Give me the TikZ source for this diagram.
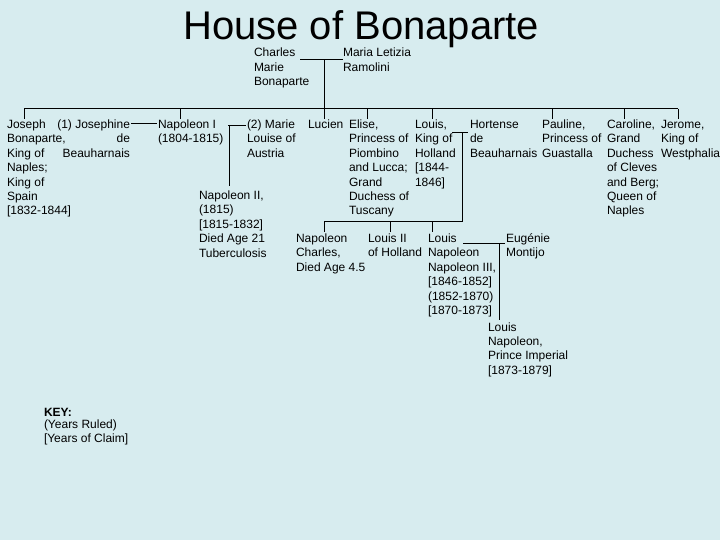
\documentclass[tikz,border=0pt]{standalone}
\usepackage{fontspec}
\setmainfont{Liberation Sans}
\definecolor{bg}{RGB}{215,236,239}
\newcommand\stkl[1]{\begin{tabular}[t]{@{}l@{}}#1\end{tabular}}
\newcommand\stkr[1]{\begin{tabular}[t]{@{}r@{}}#1\end{tabular}}
\begin{document}
\begin{tikzpicture}[x=1pt,y=-1pt,
  person/.style={inner sep=0pt, outer sep=0pt, anchor=base west,
    font=\fontsize{12}{14.4}\selectfont},
  link/.style={line width=1pt, black}]
\path[use as bounding box, fill=bg] (0,0) rectangle (720,540);
% title
\node[inner sep=0pt, anchor=base west, font=\fontsize{40}{48}\selectfont] (title) at (183,40) {House of Bonaparte};
% parents
\node[person] (charles) at (254,57) {\stkl{Charles\\Marie\\Bonaparte}};
\node[person] (letizia) at (343,57) {\stkl{Maria Letizia\\Ramolini}};
% children row
\node[person] (joseph) at (7,128.5) {\stkl{Joseph\\Bonaparte,\\King of\\Naples;\\King of\\Spain\\{[1832-1844]}}};
\node[person, anchor=base east] (josephine) at (130,128.5) {\stkr{(1) Josephine\\de\\Beauharnais}};
\node[person] (nap1) at (158,128.5) {\stkl{Napoleon I\\(1804-1815)}};
\node[person] (marielouise) at (247,128.5) {\stkl{(2) Marie\\Louise of\\Austria}};
\node[person] (nap2) at (199,199.5) {\stkl{Napoleon II,\\(1815)\\{[1815-1832]}\\Died Age 21\\Tuberculosis}};
\node[person] (lucien) at (308,128.5) {\stkl{Lucien}};
\node[person] (elise) at (349,128.5) {\stkl{Elise,\\Princess of\\Piombino\\and Lucca;\\Grand\\Duchess of\\Tuscany}};
\node[person] (louis) at (415,128.5) {\stkl{Louis,\\King of\\Holland\\{[1844-}\\1846]}};
\node[person] (hortense) at (470,128.5) {\stkl{Hortense\\de\\Beauharnais}};
\node[person] (pauline) at (542,128.5) {\stkl{Pauline,\\Princess of\\Guastalla}};
\node[person] (caroline) at (607,128.5) {\stkl{Caroline,\\Grand\\Duchess\\of Cleves\\and Berg;\\Queen of\\Naples}};
\node[person] (jerome) at (661,128.5) {\stkl{Jerome,\\King of\\Westphalia}};
% grandchildren
\node[person] (napcharles) at (296,242.5) {\stkl{Napoleon\\Charles,\\Died Age 4.5}};
\node[person] (louis2) at (368,242.5) {\stkl{Louis II\\of Holland}};
\node[person] (nap3) at (428,242.5) {\stkl{Louis\\Napoleon\\Napoleon III,\\{[1846-1852]}\\(1852-1870)\\{[1870-1873]}}};
\node[person] (eugenie) at (506,242.5) {\stkl{Eugénie\\Montijo}};
\node[person] (imperial) at (488,331) {\stkl{Louis\\Napoleon,\\Prince Imperial\\{[1873-1879]}}};
% key
\node[person] (key) at (44,416.5) {\stkl{\textbf{KEY:}\\[-2.6pt](Years Ruled)\\{[Years of Claim]}}};
% connector points
\coordinate (pl) at (300,60);
\coordinate (pr) at (343,60);
\coordinate (pm) at (324,60);
\coordinate (sibL) at (24,109);
\coordinate (sibR) at (678,109);
\coordinate (sibM) at (324,109);
\coordinate (m1a) at (131,124);
\coordinate (m1b) at (157,124);
\coordinate (m2a) at (228,126);
\coordinate (m2b) at (246,126);
\coordinate (m2c) at (229,126);
\coordinate (m2d) at (229,186);
\coordinate (m3a) at (452,133);
\coordinate (m3b) at (468,133);
\coordinate (m3c) at (462,133);
\coordinate (m3d) at (462,222);
\coordinate (gL) at (324,222);
\coordinate (m4a) at (463,243);
\coordinate (m4b) at (505,243);
\coordinate (m4c) at (499,243);
\coordinate (m4d) at (499,320);
% connectors
\draw[link] (pl) -- (pr);
\draw[link] (pm) -- (sibM);
\draw[link] (sibL) -- (sibR);
\foreach \x in {24,180,324,367,432,552,624,678} \draw[link] (\x,109) -- ++(0,10);
\draw[link] (m1a) -- (m1b);
\draw[link] (m2a) -- (m2b);
\draw[link] (m2c) -- (m2d);
\draw[link] (m3a) -- (m3b);
\draw[link] (m3c) -- (m3d) -- (gL);
\foreach \x in {324,390,432} \draw[link] (\x,222) -- ++(0,10);
\draw[link] (m4a) -- (m4b);
\draw[link] (m4c) -- (m4d);
\end{tikzpicture}
\end{document}
